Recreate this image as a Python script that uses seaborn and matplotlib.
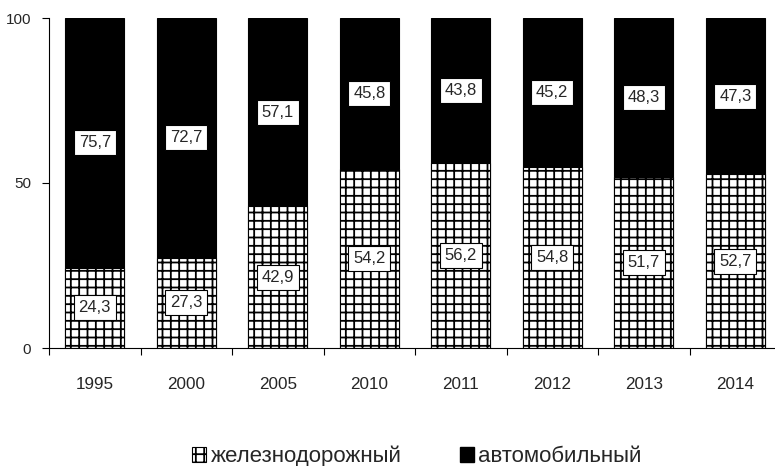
import numpy as np
import pandas as pd
import matplotlib
matplotlib.use("Agg")
import matplotlib.pyplot as plt
import seaborn as sns
from matplotlib.patches import Patch

years = ["1995", "2000", "2005", "2010", "2011", "2012", "2013", "2014"]
rail = [24.3, 27.3, 42.9, 54.2, 56.2, 54.8, 51.7, 52.7]
auto = [75.7, 72.7, 57.1, 45.8, 43.8, 45.2, 48.3, 47.3]
legend_labels = ["железнодорожный", "автомобильный"]

sns.set_style("white")
plt.rcParams["font.family"] = ["Liberation Sans", "DejaVu Sans"]
plt.rcParams["hatch.linewidth"] = 1.3
plt.rcParams["hatch.color"] = "black"

df = pd.DataFrame({"year": years, "rail": rail, "auto": auto})
df["total"] = df["rail"] + df["auto"]

fig = plt.figure(figsize=(7.75, 4.66), dpi=100)
ax = fig.add_axes([49 / 775, 118 / 466, 732 / 775, 330 / 466])

# верхняя часть (авто) рисуется как полный столбец, поверх - ж/д
sns.barplot(data=df, x="year", y="total", color="black", edgecolor="black",
            linewidth=0.8, width=0.645, ax=ax, saturation=1)
sns.barplot(data=df, x="year", y="rail", color="white", edgecolor="black",
            linewidth=0.8, width=0.645, hatch="++", ax=ax, saturation=1)

box = dict(boxstyle="square,pad=0.3", fc="white", ec="black", lw=0.8)
for i, (r, a) in enumerate(zip(rail, auto)):
    ax.text(i, r / 2, f"{r:.1f}".replace(".", ","), ha="center", va="center",
            fontsize=12, bbox=box)
    ax.text(i, r + a / 2, f"{a:.1f}".replace(".", ","), ha="center", va="center",
            fontsize=12, bbox=box)

ax.set_xlim(-0.5, len(years) - 0.5)
ax.set_ylim(0, 100)
ax.set_yticks([0, 50, 100])
ax.set_xlabel("")
ax.set_ylabel("")
sns.despine(ax=ax)
for s in ["left", "bottom"]:
    ax.spines[s].set_color("black")
    ax.spines[s].set_linewidth(0.8)

ax.set_xticks(np.arange(-0.5, len(years)), minor=True)
ax.tick_params(axis="x", which="major", length=0, labelsize=12.3, pad=21)
ax.tick_params(axis="x", which="minor", length=5, width=0.8, direction="out",
               bottom=True, color="black")
ax.tick_params(axis="y", length=5, width=0.8, direction="out", left=True,
               labelsize=11, color="black", pad=8)

handles = [Patch(facecolor="white", edgecolor="black", hatch="++", lw=0.8),
           Patch(facecolor="black", edgecolor="black")]
fig.legend(handles, legend_labels, loc="lower center", bbox_to_anchor=(0.538, -0.045),
           ncol=2, frameon=False, fontsize=16, handlelength=0.65, handleheight=0.65,
           handletextpad=0.2, columnspacing=2.6)

fig.savefig("out.png", dpi=100)
